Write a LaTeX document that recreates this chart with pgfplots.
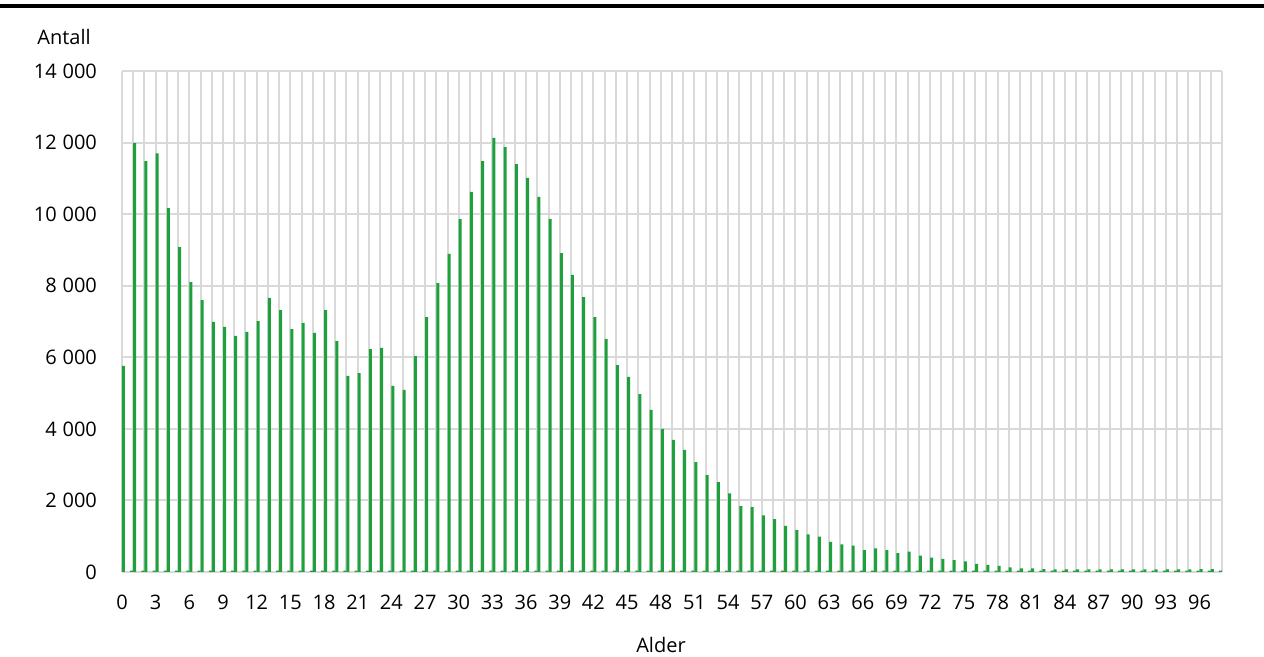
\documentclass[border=0pt]{standalone}
\usepackage{fontspec}
\setmainfont{Open Sans}
\usepackage{pgfplots}
\pgfplotsset{compat=1.18}
\definecolor{barg}{RGB}{30,160,60}
\definecolor{gridg}{RGB}{217,217,217}
\begin{document}
\begin{tikzpicture}
\useasboundingbox (-61pt,-42.5pt) rectangle (571pt,286pt);
\draw[black,line width=2pt] (-61pt,283pt) -- (571pt,283pt);
\begin{axis}[
  at={(0,0)}, anchor=south west,
  scale only axis, width=550pt, height=250.5pt,
  xmin=0, xmax=98, ymin=0, ymax=14000,
  ybar=0pt, bar width=1.5pt,
  axis line style={draw=none},
  xtick={0,3,...,96},
  minor xtick={0,...,98},
  ytick={0,2000,...,14000},
  xmajorgrids, xminorgrids, ymajorgrids,
  major grid style={gridg,line width=1pt},
  minor grid style={gridg,line width=1pt},
  major tick length=0pt, minor tick length=0pt,
  tick label style={font=\fontsize{10}{12}\selectfont},
  /pgf/number format/assume math mode=true,
  /pgf/number format/1000 sep={\hspace{2.9pt}},
  yticklabel style={xshift=-9pt},
  xticklabel style={yshift=-8pt},
  scaled y ticks=false,
]
\addplot[fill=barg,draw=none] coordinates {
(0,40)(1,40)(2,40)(3,40)(4,40)(5,40)(6,40)(7,40)(8,40)(9,40)
(10,40)(11,40)(12,40)(13,40)(14,40)(15,40)(16,40)(17,40)(18,40)(19,40)
(20,40)(21,40)(22,40)(23,40)(24,40)(25,40)(26,40)(27,40)(28,40)(29,40)
(30,40)(31,40)(32,40)(33,40)(34,40)(35,40)(36,40)(37,40)(38,40)(39,40)
(40,40)(41,40)(42,40)(43,40)(44,40)(45,40)(46,40)(47,40)(48,40)(49,40)
(50,40)(51,40)(52,40)(53,40)(54,40)(55,40)(56,40)(57,40)(58,40)(59,40)
(60,40)(61,40)(62,40)(63,40)(64,40)(65,40)(66,40)(67,40)(68,40)(69,40)
(70,40)(71,40)(72,40)(73,40)(74,40)(75,40)(76,40)(77,40)(78,40)(79,40)
(80,40)(81,40)(82,40)(83,40)(84,40)(85,40)(86,40)(87,40)(88,40)(89,40)
(90,40)(91,40)(92,40)(93,40)(94,40)(95,40)(96,40)(97,40)(98,40)
};
\addplot[fill=barg,draw=none] coordinates {
(0,5760)(1,11990)(2,11480)(3,11700)(4,10170)(5,9080)(6,8100)(7,7600)(8,6990)(9,6850)
(10,6600)(11,6710)(12,7010)(13,7660)(14,7320)(15,6790)(16,6960)(17,6680)(18,7320)(19,6450)
(20,5480)(21,5560)(22,6230)(23,6260)(24,5200)(25,5090)(26,6035)(27,7120)(28,8070)(29,8890)
(30,9860)(31,10620)(32,11480)(33,12130)(34,11870)(35,11400)(36,11010)(37,10480)(38,9860)(39,8910)
(40,8300)(41,7680)(42,7120)(43,6510)(44,5780)(45,5450)(46,4970)(47,4530)(48,4000)(49,3690)
(50,3410)(51,3070)(52,2710)(53,2510)(54,2200)(55,1840)(56,1810)(57,1580)(58,1480)(59,1290)
(60,1170)(61,1050)(62,990)(63,840)(64,770)(65,740)(66,610)(67,660)(68,610)(69,530)
(70,570)(71,460)(72,400)(73,370)(74,330)(75,300)(76,230)(77,200)(78,170)(79,130)
(80,100)(81,100)(82,80)(83,75)(84,70)(85,75)(86,70)(87,70)(88,75)(89,70)
(90,70)(91,75)(92,70)(93,75)(94,75)(95,75)(96,80)(97,80)(98,90)
};
\end{axis}
\node[anchor=west,inner sep=0pt,font=\fontsize{10}{12}\selectfont] at (-42.5pt,267.5pt) {Antall};
\node[inner sep=0pt,font=\fontsize{10}{12}\selectfont] at (269.5pt,-36.5pt) {Alder};
\end{tikzpicture}
\end{document}
